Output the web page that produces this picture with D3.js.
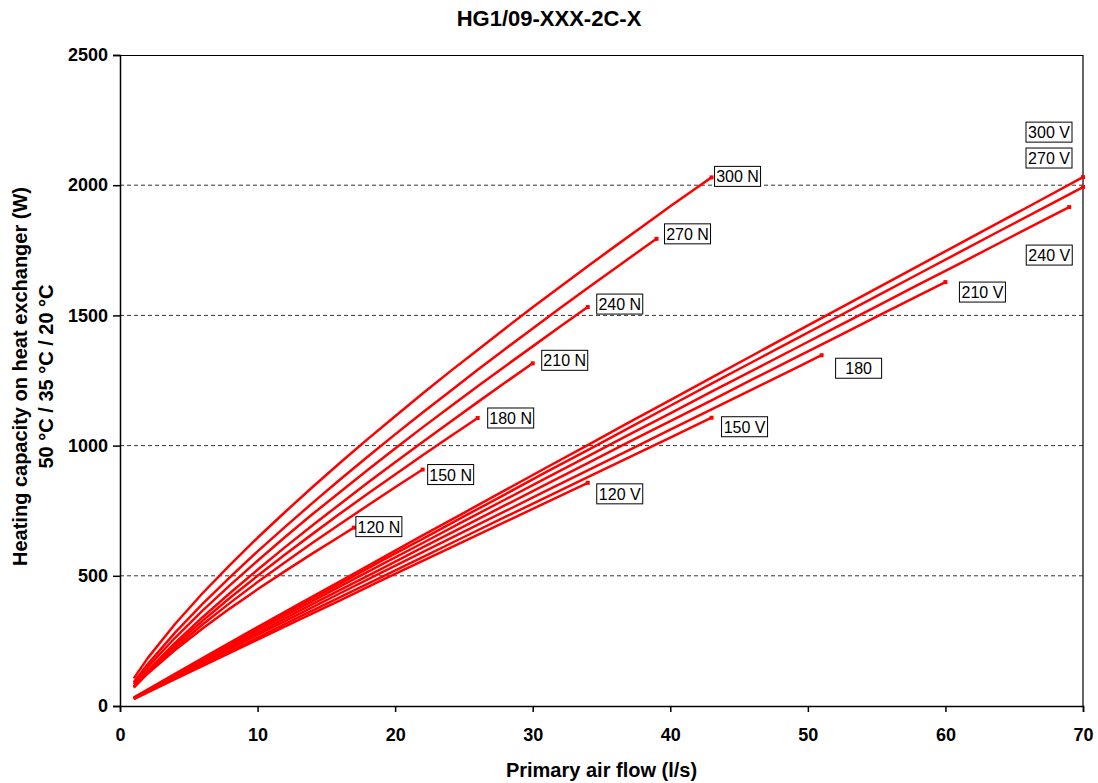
<!DOCTYPE html>
<html>
<head>
<meta charset="utf-8">
<script src="https://cdn.jsdelivr.net/npm/d3@7"></script>
<style>
  body { margin: 0; background: #fff; }
  text { font-family: "Liberation Sans", Arial, sans-serif; }
</style>
</head>
<body>
<div class="chart"></div>
<script>
var svgWidth = 1098;
var svgHeight = 783;

var margin = {
  top: 55,
  right: 15,
  bottom: 77,
  left: 120
};

var width = svgWidth - margin.left - margin.right;
var height = svgHeight - margin.top - margin.bottom;

// Data: primary air flow (l/s) and heating capacity (W)
var flow120N = [1, 2, 4, 6, 8, 10, 12, 14, 16, 17];
var cap120N  = [71, 124, 215, 298, 375, 448, 518, 586, 652, 685];
var flow150N = [1, 2, 4, 6, 8, 10, 12, 14, 16, 18, 20, 22];
var cap150N  = [72, 127, 224, 313, 396, 476, 552, 627, 699, 770, 840, 908];
var flow180N = [1, 2, 4, 6, 8, 10, 12, 14, 16, 18, 20, 22, 24, 26];
var cap180N  = [74, 132, 234, 327, 416, 500, 582, 661, 739, 815, 889, 963, 1035, 1106];
var flow210N = [1, 2, 4, 6, 8, 10, 12, 14, 16, 18, 20, 22, 24, 26, 28, 30];
var cap210N  = [76, 135, 242, 341, 434, 523, 610, 694, 776, 857, 936, 1014, 1091, 1167, 1242, 1316];
var flow240N = [1, 2, 4, 6, 8, 10, 12, 14, 16, 18, 20, 22, 24, 26, 28, 30, 32, 34];
var cap240N  = [84, 148, 262, 366, 464, 558, 649, 737, 822, 906, 989, 1070, 1149, 1228, 1305, 1381, 1457, 1532];
var flow270N = [1, 2, 4, 6, 8, 10, 12, 14, 16, 18, 20, 22, 24, 26, 28, 30, 32, 34, 36, 38, 39];
var cap270N  = [91, 160, 282, 392, 495, 594, 688, 780, 870, 957, 1043, 1127, 1209, 1291, 1371, 1450, 1528, 1605, 1681, 1757, 1794];
var flow300N = [1, 2, 4, 6, 8, 10, 12, 14, 16, 18, 20, 22, 24, 26, 28, 30, 32, 34, 36, 38, 40, 42, 43];
var cap300N  = [106, 183, 315, 433, 542, 646, 745, 841, 934, 1025, 1113, 1200, 1285, 1367, 1450, 1531, 1610, 1689, 1766, 1842, 1919, 1993, 2030];

var flow120V = [1, 4, 7, 10, 13, 16, 19, 22, 25, 28, 31, 34];
var cap120V  = [26, 103, 179, 255, 331, 406, 482, 557, 632, 707, 782, 857];
var flow150V = [1, 4, 7, 10, 13, 16, 19, 22, 25, 28, 31, 34, 37, 40, 43];
var cap150V  = [27, 107, 185, 263, 341, 418, 495, 572, 649, 726, 802, 879, 955, 1031, 1107];
var flow180V = [1, 4, 7, 10, 13, 16, 19, 22, 25, 28, 31, 34, 37, 40, 43, 46, 49, 51];
var cap180V  = [29, 111, 192, 273, 353, 433, 512, 591, 670, 748, 827, 905, 983, 1061, 1139, 1217, 1295, 1347];
var flow210V = [1, 4, 7, 10, 13, 16, 19, 22, 25, 28, 31, 34, 37, 40, 43, 46, 49, 52, 55, 58, 60];
var cap210V  = [29, 115, 198, 281, 364, 446, 527, 609, 690, 771, 852, 933, 1014, 1094, 1174, 1255, 1335, 1415, 1495, 1575, 1628];
var flow240V = [1, 4, 7, 10, 13, 16, 19, 22, 25, 28, 31, 34, 37, 40, 43, 46, 49, 52, 55, 58, 61, 64, 67, 69];
var cap240V  = [30, 118, 204, 290, 375, 459, 543, 626, 710, 793, 876, 959, 1042, 1124, 1207, 1289, 1371, 1453, 1535, 1617, 1698, 1780, 1862, 1916];
var flow270V = [1, 4, 7, 10, 13, 16, 19, 22, 25, 28, 31, 34, 37, 40, 43, 46, 49, 52, 55, 58, 61, 64, 67, 70];
var cap270V  = [31, 121, 210, 297, 384, 470, 557, 642, 728, 813, 899, 983, 1068, 1153, 1238, 1322, 1406, 1490, 1574, 1658, 1742, 1826, 1909, 1993];
var flow300V = [1, 4, 7, 10, 13, 16, 19, 22, 25, 28, 31, 34, 37, 40, 43, 46, 49, 52, 55, 58, 61, 64, 67, 70];
var cap300V  = [32, 124, 214, 303, 391, 479, 567, 655, 742, 829, 916, 1002, 1089, 1175, 1261, 1347, 1433, 1518, 1604, 1689, 1775, 1860, 1945, 2031];

var seriesLabels = ["120 N", "150 N", "180 N", "210 N", "240 N", "270 N", "300 N",
                    "120 V", "150 V", "180", "210 V", "240 V", "270 V", "300 V"];
var seriesFlows = [flow120N, flow150N, flow180N, flow210N, flow240N, flow270N, flow300N,
                   flow120V, flow150V, flow180V, flow210V, flow240V, flow270V, flow300V];
var seriesCaps = [cap120N, cap150N, cap180N, cap210N, cap240N, cap270N, cap300N,
                  cap120V, cap150V, cap180V, cap210V, cap240V, cap270V, cap300V];

var xTicks = [0, 10, 20, 30, 40, 50, 60, 70];
var yTicks = [0, 500, 1000, 1500, 2000, 2500];

// label box offsets (px) from the last point of each curve: left edge, vertical centre
var labelOffsets = [[2, -1], [5, 5], [10, 0], [9, -3], [9, -3], [8, -5], [3, -1],
                    [9, 11], [10, 9], [14, 13], [14, 10], [-43, 48], [-57, -29], [-57, -45]];

var svg = d3.select(".chart")
  .append("svg")
  .attr("width", svgWidth)
  .attr("height", svgHeight);

var chartGroup = svg.append("g")
  .attr("transform", `translate(${margin.left}, ${margin.top})`);

var xScale = d3.scaleLinear().domain([0, 70]).range([0, width]);
var yScale = d3.scaleLinear().domain([0, 2500]).range([height, 0]);

// dashed gridlines
chartGroup.selectAll(".grid")
  .data(yTicks.filter(d => d > 0 && d < 2500))
  .enter()
  .append("line")
  .attr("x1", 0)
  .attr("x2", width)
  .attr("y1", d => yScale(d))
  .attr("y2", d => yScale(d))
  .attr("stroke", "#333")
  .attr("stroke-width", 1)
  .attr("stroke-dasharray", "4,3");

// frame top and right
chartGroup.append("path")
  .attr("d", `M0,0.5H${width}V${height}`)
  .attr("fill", "none")
  .attr("stroke", "#000")
  .attr("stroke-width", 1.2);

// axes
var bottomAxis = d3.axisBottom(xScale).tickValues(xTicks).tickSize(6).tickPadding(16)
  .tickFormat(d3.format("d"));
var leftAxis = d3.axisLeft(yScale).tickValues(yTicks).tickSize(7).tickPadding(5)
  .tickFormat(d3.format("d"));

var xAxis = chartGroup.append("g")
  .attr("transform", `translate(0, ${height})`)
  .call(bottomAxis);

var yAxis = chartGroup.append("g")
  .call(leftAxis);

[xAxis, yAxis].forEach(function(ax) {
  ax.select(".domain").attr("stroke", "#000").attr("stroke-width", 1.5);
  ax.selectAll(".tick line").attr("stroke", "#000").attr("stroke-width", 1.5);
  ax.selectAll("text")
    .attr("fill", "#000")
    .style("font-size", "18px")
    .style("font-weight", "bold")
    .style("font-family", "'Liberation Sans', Arial, sans-serif");
});

// curves
var line = d3.line()
  .x(d => xScale(d[0]))
  .y(d => yScale(d[1]));

seriesLabels.forEach(function(name, i) {
  var pts = seriesFlows[i].map((f, j) => [f, seriesCaps[i][j]]);
  chartGroup.append("path")
    .datum(pts)
    .attr("d", line)
    .attr("fill", "none")
    .attr("stroke", "#ff0000")
    .attr("stroke-width", 2.5)
    .attr("stroke-linejoin", "round");

  var last = pts[pts.length - 1];
  var ex = xScale(last[0]);
  var ey = yScale(last[1]);

  chartGroup.append("rect")
    .attr("x", ex - 2)
    .attr("y", ey - 2)
    .attr("width", 4)
    .attr("height", 4)
    .attr("fill", "#ff0000");

  var bx = ex + labelOffsets[i][0];
  var by = ey + labelOffsets[i][1];
  var box = chartGroup.append("g")
    .attr("transform", `translate(${bx}, ${by})`);
  box.append("rect")
    .attr("x", 0)
    .attr("y", -10)
    .attr("width", 46)
    .attr("height", 20)
    .attr("fill", "#fff")
    .attr("stroke", "#000")
    .attr("stroke-width", 1);
  box.append("text")
    .attr("x", 23)
    .attr("y", 6)
    .attr("text-anchor", "middle")
    .style("font-size", "16px")
    .attr("fill", "#000")
    .text(name);
});

// title
svg.append("text")
  .attr("x", 549)
  .attr("y", 26)
  .attr("text-anchor", "middle")
  .style("font-size", "22px")
  .style("font-weight", "bold")
  .text("HG1/09-XXX-2C-X");

// x axis title
svg.append("text")
  .attr("x", margin.left + width / 2)
  .attr("y", 777)
  .attr("text-anchor", "middle")
  .style("font-size", "20px")
  .style("font-weight", "bold")
  .text("Primary air flow (l/s)");

// y axis title, two lines
var yTitle = svg.append("g")
  .attr("transform", `translate(0, ${margin.top + height / 2 - 4}) rotate(-90)`);
yTitle.append("text")
  .attr("x", 0)
  .attr("y", 27)
  .attr("text-anchor", "middle")
  .style("font-size", "20px")
  .style("font-weight", "bold")
  .text("Heating capacity on heat exchanger (W)");
yTitle.append("text")
  .attr("x", 0)
  .attr("y", 53)
  .attr("text-anchor", "middle")
  .style("font-size", "20px")
  .style("font-weight", "bold")
  .text("50 °C / 35 °C / 20 °C");
</script>
</body>
</html>
